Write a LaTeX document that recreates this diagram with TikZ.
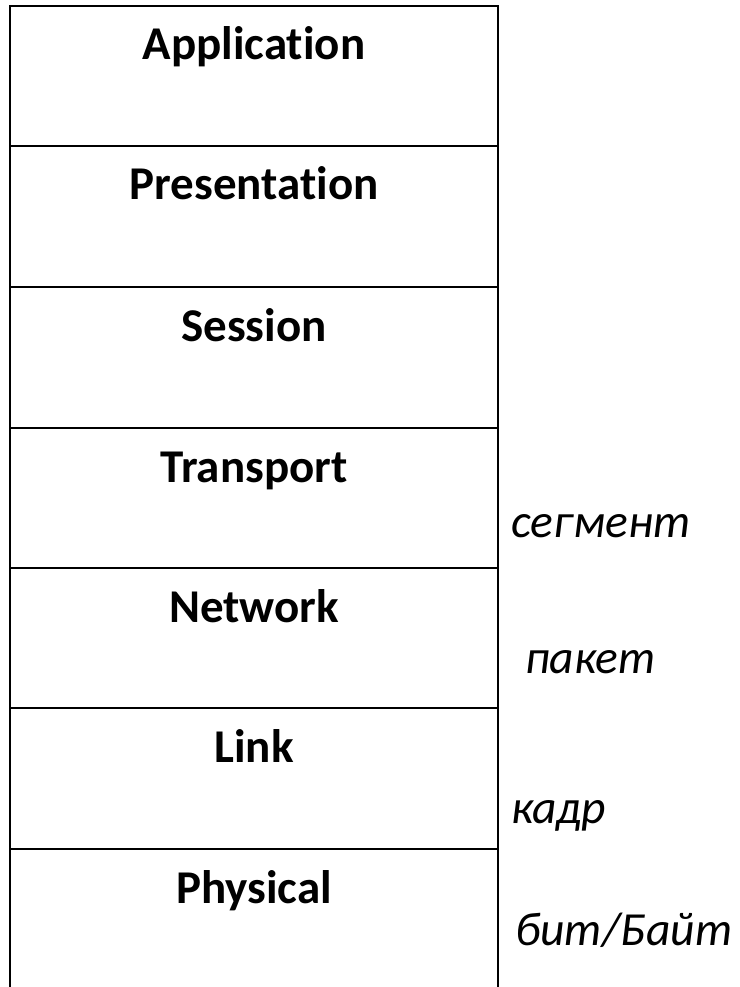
\documentclass[tikz,border=0pt]{standalone}
\usepackage{fontspec}
\setmainfont{Carlito}[Ligatures={TeX,NoCommon}]
\usetikzlibrary{positioning}

\begin{document}
\begin{tikzpicture}[x=1pt,y=-1pt,every node/.append style={inner sep=0pt,
                    font=\fontsize{47}{54}\selectfont},
                    layer/.style={anchor=base,font=\fontsize{47}{54}\selectfont\bfseries},
                    unit/.style={anchor=base west,font=\fontsize{47.5}{54}\selectfont\itshape}]
    \useasboundingbox (0,0) rectangle (739,987);
    \begin{scope}[line width=2.8pt]
      \draw (10,992) -- (10,6) -- (498,6) -- (498,992);
      \draw (10,146) -- (498,146);
      \draw (10,287) -- (498,287);
      \draw (10,428) -- (498,428);
      \draw (10,568) -- (498,568);
      \draw (10,708) -- (498,708);
      \draw (10,849) -- (498,849);
    \end{scope}
    \node[layer] (app)   at (254,60)  {Application};
    \node[layer] (pres)  at (254,200) {Presentation};
    \node[layer] (sess)  at (254,341) {Session};
    \node[layer] (trans) at (254,482) {Transport};
    \node[layer] (net)   at (254,622) {Network};
    \node[layer] (link)  at (254,762) {Link};
    \node[layer] (phys)  at (254,903) {Physical};
    \node[unit] (seg)    at (511,537) {сегмент};
    \node[unit] (pack)   at (525,673) {пакет};
    \node[unit] (frame)  at (511,823) {кадр};
    \node[unit] (bit)    at (515,945) {бит/Байт};
\end{tikzpicture}
\end{document}
